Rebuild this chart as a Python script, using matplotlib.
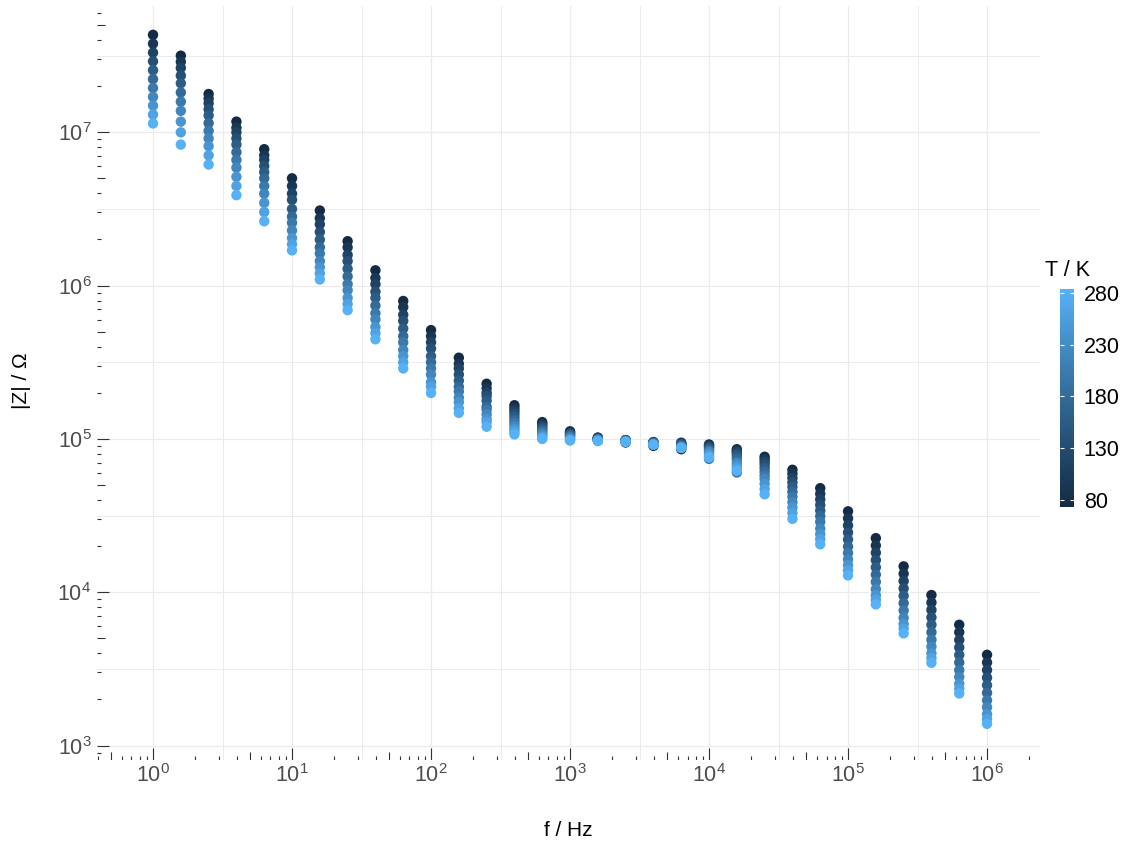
import matplotlib
matplotlib.use("Agg")
import matplotlib.pyplot as plt
from matplotlib.colors import LinearSegmentedColormap, Normalize
from matplotlib.ticker import FixedLocator, NullFormatter, LogFormatterSciNotation
import numpy as np

plt.rcParams['font.family'] = ['Liberation Sans', 'DejaVu Sans']
plt.rcParams['mathtext.fontset'] = 'custom'
plt.rcParams['mathtext.rm'] = 'Liberation Sans'
plt.rcParams['mathtext.it'] = 'Liberation Sans:italic'

# measurement frequencies (5 per decade)
freq_hz = [1.0, 1.585, 2.512, 3.981, 6.31, 10, 15.85, 25.12, 39.81, 63.1,
           100, 158.5, 251.2, 398.1, 631, 1e3, 1.585e3, 2.512e3, 3.981e3, 6.31e3,
           1e4, 1.585e4, 2.512e4, 3.981e4, 6.31e4, 1e5, 1.585e5, 2.512e5, 3.981e5,
           6.31e5, 1e6]

temp_k = [74, 95, 116, 137, 158, 179, 200, 221, 242, 263, 284]

# log10(|Z| / Ohm), one row per frequency, columns in temp_k order
log_z = [
    [7.636, 7.578, 7.520, 7.463, 7.405, 7.347, 7.289, 7.231, 7.174, 7.116, 7.058],
    [7.50, 7.46, 7.42, 7.37, 7.32, 7.26, 7.20, 7.14, 7.07, 7.00, 6.92],
    [7.25, 7.22, 7.19, 7.15, 7.11, 7.06, 7.01, 6.96, 6.91, 6.85, 6.79],
    [7.07, 7.03, 7.00, 6.96, 6.92, 6.87, 6.82, 6.77, 6.71, 6.65, 6.59],
    [6.89, 6.85, 6.82, 6.78, 6.74, 6.70, 6.65, 6.60, 6.54, 6.48, 6.42],
    [6.70, 6.65, 6.60, 6.56, 6.50, 6.45, 6.41, 6.36, 6.31, 6.27, 6.23],
    [6.49, 6.44, 6.40, 6.35, 6.30, 6.25, 6.21, 6.16, 6.12, 6.08, 6.04],
    [6.29, 6.25, 6.20, 6.16, 6.11, 6.06, 6.01, 5.97, 5.92, 5.88, 5.84],
    [6.10, 6.05, 6.01, 5.96, 5.92, 5.87, 5.82, 5.78, 5.73, 5.69, 5.65],
    [5.90, 5.86, 5.81, 5.77, 5.72, 5.67, 5.63, 5.58, 5.54, 5.50, 5.46],
    [5.71, 5.67, 5.63, 5.59, 5.54, 5.50, 5.46, 5.42, 5.37, 5.34, 5.30],
    [5.53, 5.49, 5.46, 5.42, 5.38, 5.34, 5.31, 5.27, 5.24, 5.20, 5.17],
    [5.36, 5.33, 5.30, 5.28, 5.25, 5.21, 5.19, 5.16, 5.13, 5.11, 5.08],
    [5.220, 5.201, 5.182, 5.163, 5.142, 5.121, 5.102, 5.083, 5.064, 5.047, 5.030],
    [5.110, 5.099, 5.088, 5.077, 5.065, 5.053, 5.042, 5.031, 5.020, 5.010, 5.000],
    [5.050, 5.044, 5.038, 5.032, 5.026, 5.020, 5.014, 5.005, 4.997, 4.993, 4.990],
    [5.009, 5.007, 5.004, 5.002, 5.000, 4.998, 4.995, 4.993, 4.991, 4.988, 4.986],
    [4.977, 4.993, 4.992, 4.991, 4.990, 4.988, 4.987, 4.985, 4.984, 4.982, 4.981],
    [4.955, 4.980, 4.978, 4.976, 4.974, 4.972, 4.970, 4.968, 4.966, 4.964, 4.962],
    [4.933, 4.976, 4.972, 4.967, 4.962, 4.957, 4.952, 4.948, 4.945, 4.943, 4.941],
    [4.964, 4.958, 4.953, 4.945, 4.936, 4.926, 4.870, 4.917, 4.903, 4.889, 4.879],
    [4.933, 4.924, 4.915, 4.903, 4.887, 4.869, 4.781, 4.846, 4.827, 4.808, 4.793],
    [4.884, 4.869, 4.852, 4.833, 4.810, 4.786, 4.761, 4.739, 4.708, 4.673, 4.639],
    [4.799, 4.773, 4.745, 4.716, 4.687, 4.655, 4.623, 4.588, 4.553, 4.517, 4.479],
    [4.679, 4.642, 4.606, 4.569, 4.533, 4.496, 4.459, 4.415, 4.379, 4.346, 4.313],
    [4.528, 4.482, 4.436, 4.390, 4.344, 4.298, 4.256, 4.214, 4.177, 4.143, 4.110],
    [4.353, 4.305, 4.258, 4.210, 4.163, 4.115, 4.068, 4.020, 3.981, 3.951, 3.921],
    [4.169, 4.121, 4.073, 4.025, 3.977, 3.929, 3.881, 3.833, 3.793, 3.763, 3.732],
    [3.982, 3.933, 3.885, 3.836, 3.788, 3.739, 3.690, 3.646, 3.602, 3.571, 3.540],
    [3.788, 3.739, 3.689, 3.640, 3.591, 3.542, 3.492, 3.448, 3.403, 3.371, 3.340],
    [3.592, 3.542, 3.493, 3.443, 3.394, 3.344, 3.295, 3.250, 3.205, 3.173, 3.142],
]

colorbar_ticks = [80, 130, 180, 230, 280]

W, H = 1130, 843
fig = plt.figure(figsize=(W / 100, H / 100), dpi=100)
ax = fig.add_axes([97 / W, 1 - 760 / H, 943 / W, 754 / H])

cmap = LinearSegmentedColormap.from_list(
    'gg', ['#132B43', '#22496C', '#336A98', '#448DC6', '#56B1F7'])
norm = Normalize(73, 284)

zmat = 10 ** np.array(log_z)
sc = None
for j, t in enumerate(temp_k):
    sc = ax.scatter(freq_hz, zmat[:, j], c=[t] * len(freq_hz), cmap=cmap, norm=norm,
                    s=56, linewidths=0, zorder=3)

ax.set_xscale('log')
ax.set_yscale('log')
xlo, xhi = 10 ** -0.403, 10 ** 6.381
ylo, yhi = 10 ** 2.906, 10 ** 7.824

# grid: decades + half decades
ax.xaxis.set_major_locator(FixedLocator([10.0 ** k for k in range(0, 7)]))
ax.xaxis.set_minor_locator(FixedLocator([10.0 ** (k + 0.5) for k in range(0, 6)]))
ax.yaxis.set_major_locator(FixedLocator([10.0 ** k for k in range(3, 8)]))
ax.yaxis.set_minor_locator(FixedLocator([10.0 ** (k + 0.5) for k in range(3, 8)]))
ax.xaxis.set_major_formatter(LogFormatterSciNotation())
ax.yaxis.set_major_formatter(LogFormatterSciNotation())
ax.xaxis.set_minor_formatter(NullFormatter())
ax.yaxis.set_minor_formatter(NullFormatter())
ax.grid(True, which='major', color='#EBEBEB', linewidth=0.9)
ax.grid(True, which='minor', color='#EBEBEB', linewidth=0.7)
ax.set_axisbelow(True)
ax.tick_params(which='both', length=0, labelsize=15.5, labelcolor='#4D4D4D')
ax.tick_params(axis='x', pad=3)
ax.tick_params(axis='y', pad=4)
for s in ax.spines.values():
    s.set_visible(False)

# log ticks inside the panel, bottom and left
xt = ax.get_xaxis_transform()
yt = ax.get_yaxis_transform()
for dec in range(-1, 9):
    for m in range(1, 10):
        v = m * 10.0 ** dec
        ln = 11.8 if m == 1 else (7.9 if m == 5 else 3.9)
        if xlo <= v <= xhi:
            ax.plot([v, v], [0, ln / 754], transform=xt, color='#333333',
                    linewidth=0.8, zorder=4, solid_capstyle='butt')
        if ylo <= v <= yhi:
            ax.plot([0, ln / 943], [v, v], transform=yt, color='#333333',
                    linewidth=0.8, zorder=4, solid_capstyle='butt')

ax.set_xlim(xlo, xhi)
ax.set_ylim(ylo, yhi)

fig.text(568.5 / W, 1 - 831 / H, 'f / Hz', ha='center', va='center', fontsize=15)
fig.text(21.7 / W, 1 - 381 / H, '|Z| / Ω', ha='center', va='center',
         rotation=90, fontsize=15)

# colour bar
cax = fig.add_axes([1060 / W, 1 - 507 / H, 14 / W, 218 / H])
cb = fig.colorbar(sc, cax=cax)
cb.set_ticks(colorbar_ticks)
cb.outline.set_visible(False)
cax.tick_params(axis='y', which='both', direction='in', length=3, width=0.8,
                color='white', labelsize=15.5, labelcolor='black', pad=7,
                left=True, right=True)
cax.minorticks_off()
fig.text(1045 / W, 1 - 270 / H, 'T / K', ha='left', va='center', fontsize=15.5)

fig.savefig('out.png', dpi=100, facecolor='white')
